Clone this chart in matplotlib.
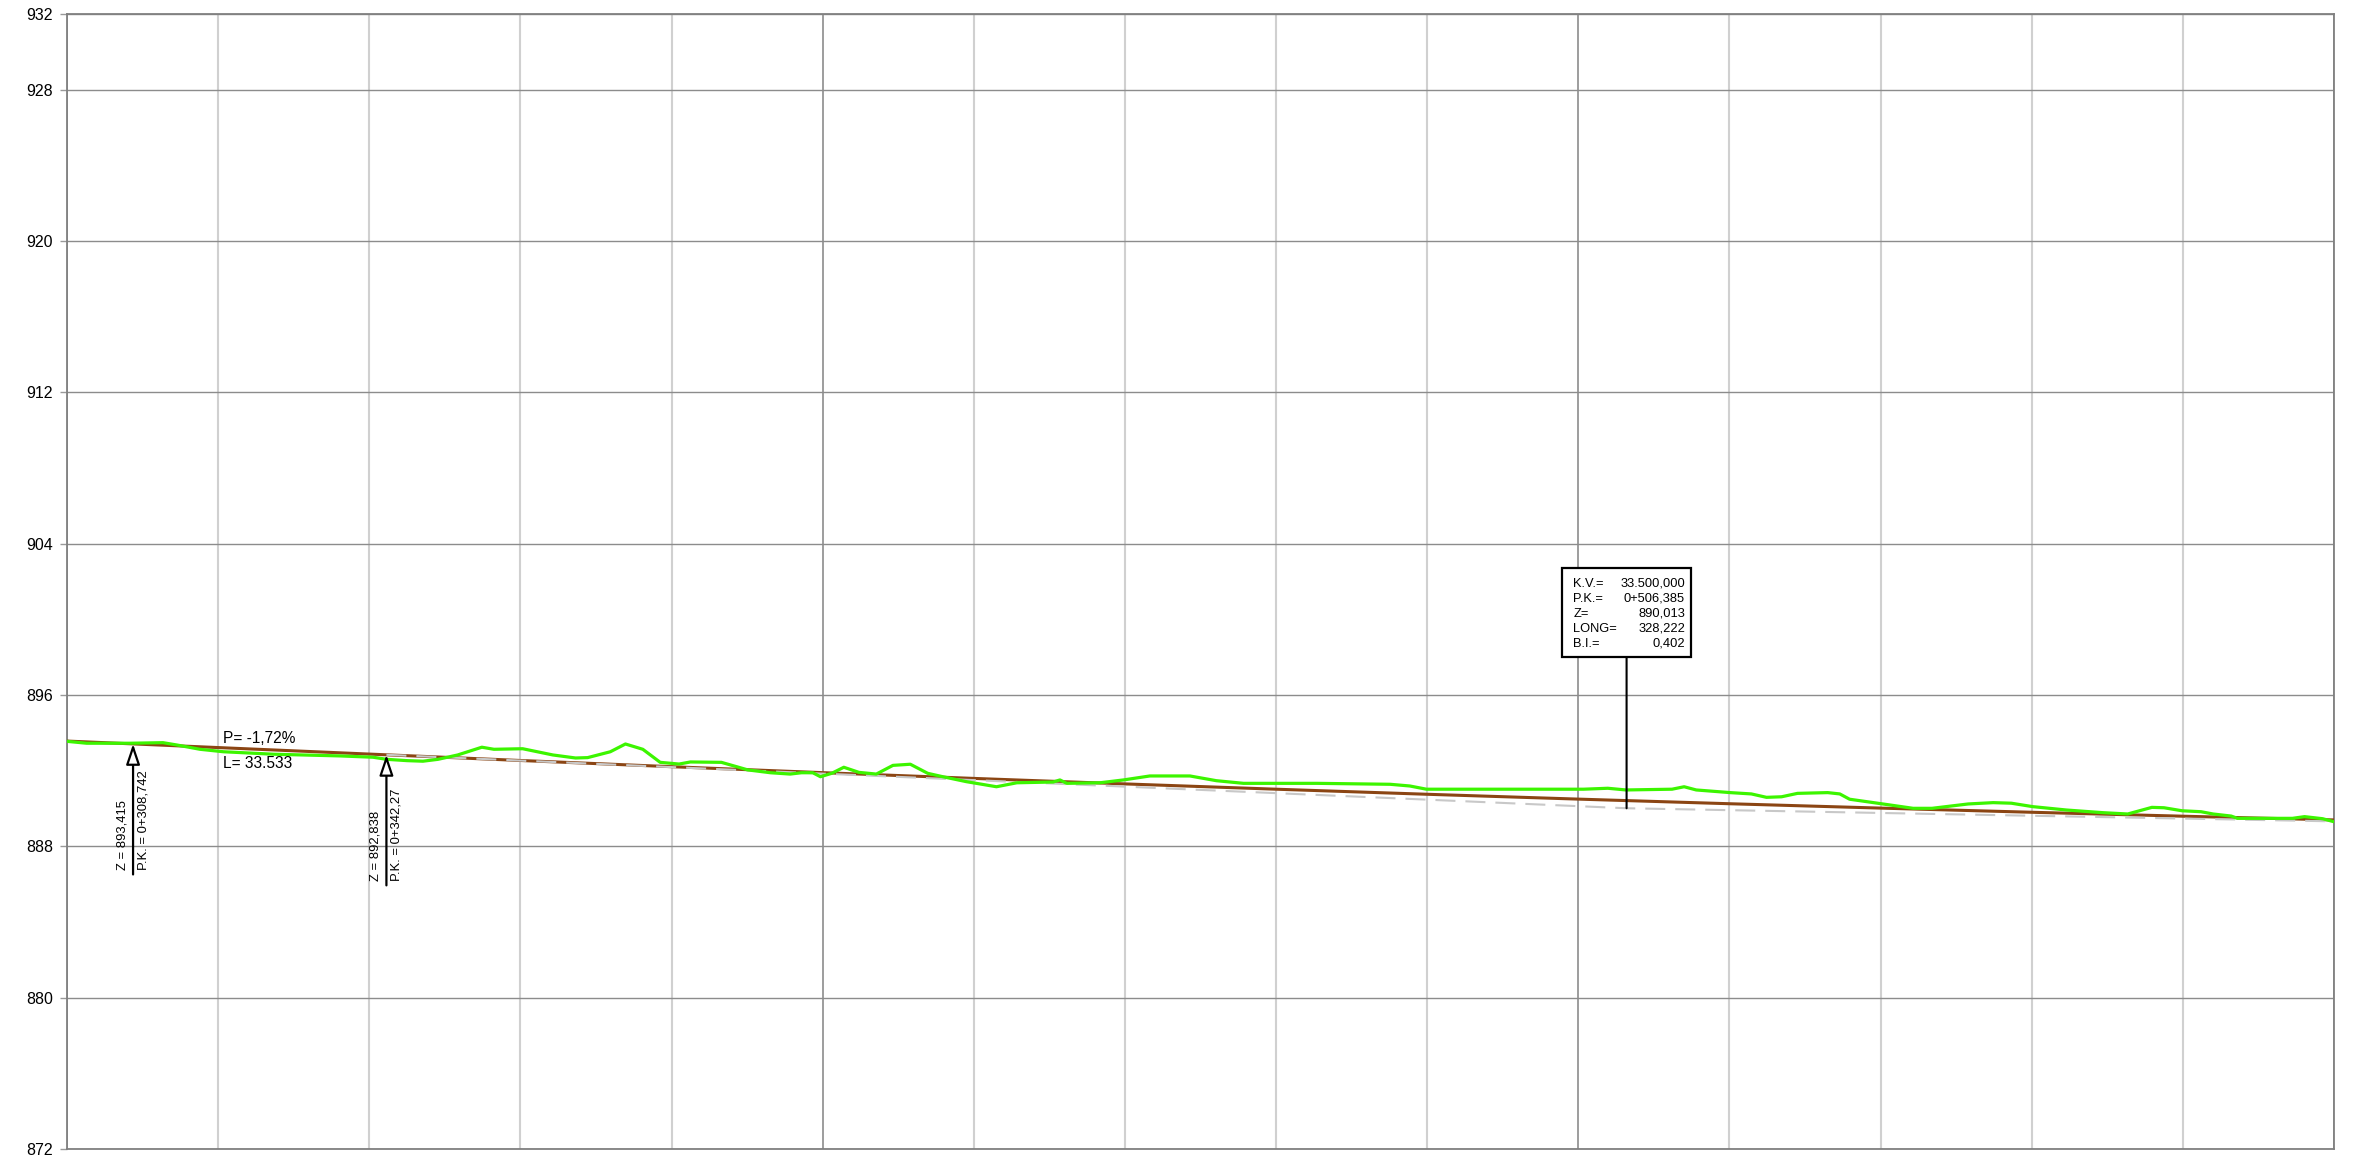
import matplotlib
matplotlib.use('Agg')
import matplotlib.pyplot as plt
from matplotlib.offsetbox import TextArea, HPacker, VPacker, AnnotationBbox, DrawingArea

# ---------------- data ----------------
# Terrain profile (green): chainage (m), elevation (m)
terrain_pk = [300.0, 302.6, 308.3, 312.7, 314.5, 317.6, 320.7, 327.3, 336.1, 340.5,
              342.3, 345.0, 347.1, 349.1, 351.7, 354.9, 356.5, 360.3, 364.3, 367.3,
              368.9, 371.9, 373.9, 376.2, 378.5, 381.0, 382.5, 386.6, 390.1, 393.1,
              395.7, 397.2, 398.7, 399.7, 401.2, 402.8, 404.8, 407.1, 409.3, 411.6,
              413.9, 415.9, 419.0, 423.0, 425.7, 430.5, 431.4, 432.3, 436.7, 439.8,
              443.3, 448.6, 452.1, 455.7, 465.4, 475.1, 477.7, 479.9, 488.5, 500.7,
              503.9, 506.3, 512.4, 514.0, 515.6, 520.1, 522.9, 524.9, 526.9, 529.0,
              533.0, 534.6, 535.9, 540.3, 544.3, 546.8, 551.6, 554.9, 557.3, 560.1,
              564.6, 569.4, 572.7, 575.9, 577.5, 579.9, 582.4, 584.0, 586.4, 587.2,
              594.5, 596.1, 598.5, 600.0]
terrain_z = [893.55, 893.45, 893.45, 893.48, 893.36, 893.13, 893.00, 892.87, 892.78, 892.71,
             892.60, 892.53, 892.50, 892.60, 892.83, 893.24, 893.13, 893.16, 892.83, 892.67,
             892.69, 893.00, 893.41, 893.13, 892.44, 892.35, 892.46, 892.44, 892.04, 891.89,
             891.82, 891.89, 891.89, 891.68, 891.86, 892.18, 891.91, 891.82, 892.28, 892.34,
             891.86, 891.68, 891.42, 891.15, 891.36, 891.40, 891.51, 891.33, 891.36, 891.51,
             891.72, 891.72, 891.47, 891.33, 891.33, 891.28, 891.19, 891.02, 891.02, 891.02,
             891.07, 890.98, 891.02, 891.15, 890.98, 890.84, 890.77, 890.59, 890.62, 890.80,
             890.84, 890.77, 890.49, 890.24, 890.01, 890.01, 890.24, 890.31, 890.28, 890.10,
             889.92, 889.78, 889.71, 890.06, 890.04, 889.88, 889.83, 889.71, 889.60, 889.48,
             889.48, 889.57, 889.46, 889.30]

# Design grade line (brown)
grade_pk = [300.0, 320.0, 340.0, 342.27, 360.0, 380.0, 400.0, 420.0, 440.0, 460.0,
            480.0, 500.0, 520.0, 540.0, 560.0, 580.0, 600.0]
grade_z = [893.565, 893.221, 892.877, 892.838, 892.538, 892.210, 891.895, 891.591, 891.300, 891.020,
           890.752, 890.496, 890.252, 890.021, 889.801, 889.593, 889.396]

# Tangent lines of the vertical curve (grey dashed)
tangent_pk = [342.27, 506.385, 600.0]
tangent_z = [892.838, 890.013, 889.320]

# Point markers (arrows)
marker_pk = [308.742, 342.27]
marker_z = [893.415, 892.838]
marker_z_labels = ['Z = 893,415', 'Z = 892,838']
marker_pk_labels = ['P.K. = 0+308,742', 'P.K. = 0+342,27']

# Grade annotation
grade_label_pk = 320.68
grade_label_z = 893.21
grade_text_p = 'P= -1,72%'
grade_text_l = 'L= 33.533'

# Vertical curve vertex box
kv_pk = 506.385
kv_z = 890.013
kv_labels = ['K.V.=', 'P.K.=', 'Z=', 'LONG=', 'B.I.=']
kv_values = ['33.500,000', '0+506,385', '890,013', '328,222', '0,402']

y_ticks = [872, 880, 888, 896, 904, 912, 920, 928, 932]
x_major = [300, 400, 500, 600]
x_minor = [320, 340, 360, 380, 420, 440, 460, 480, 520, 540, 560, 580]
x_range = (300, 600)
y_range = (872, 932)

# ---------------- figure ----------------
plt.rcParams['font.family'] = ['Liberation Sans', 'DejaVu Sans']

fig = plt.figure(figsize=(23.58, 11.69), dpi=100)
ax = fig.add_axes([67 / 2358, 1 - 1149 / 1169, (2334 - 67) / 2358, (1149 - 14) / 1169])

ax.set_xlim(*x_range)
ax.set_ylim(*y_range)
ax.set_yticks(y_ticks)
ax.set_xticks(x_major)
ax.set_xticks(x_minor, minor=True)

ax.grid(axis='y', color='#8c8c8c', lw=1.0, zorder=0)
ax.grid(axis='x', which='major', color='#8c8c8c', lw=1.2, zorder=0)
ax.grid(axis='x', which='minor', color='#d0d0d0', lw=1.5, zorder=0)
ax.set_axisbelow(True)

ax.tick_params(axis='x', which='both', length=0, labelbottom=False)
ax.tick_params(axis='y', length=5, width=1, color='#999999', labelsize=11.5, pad=5,
               labelcolor='black')
for side, sp in ax.spines.items():
    sp.set_color('#808080')
    sp.set_linewidth(1.3)

# lines
ax.plot(grade_pk, grade_z, color='#8B4513', lw=2.2, zorder=3, solid_capstyle='butt')
ax.plot(tangent_pk, tangent_z, color='#c8c8c8', lw=1.5, dashes=(9.6, 4.8), zorder=4)
ax.plot(terrain_pk, terrain_z, color='#3CF500', lw=2.3, zorder=5, solid_joinstyle='round')

# markers (arrows with labels)
for pk, z, zl, pkl in zip(marker_pk, marker_z, marker_z_labels, marker_pk_labels):
    ax.annotate('', xy=(pk, z), xycoords='data', xytext=(0, -94), textcoords='offset points',
                arrowprops=dict(arrowstyle='-|>,head_length=1.25,head_width=0.42',
                                fc='white', ec='black', lw=1.6, shrinkA=0, shrinkB=0,
                                mutation_scale=10),
                zorder=6)
    ax.annotate(zl, xy=(pk, z), xytext=(-7.8, -90.5), textcoords='offset points',
                rotation=90, ha='center', va='bottom', fontsize=9.4, zorder=6)
    ax.annotate(pkl, xy=(pk, z), xytext=(7.2, -90.5), textcoords='offset points',
                rotation=90, ha='center', va='bottom', fontsize=9.4, zorder=6)

# grade text
ax.annotate(grade_text_p, xy=(grade_label_pk, grade_label_z), xytext=(0, 3.2),
            textcoords='offset points', ha='left', va='baseline', fontsize=11.2, zorder=6)
ax.annotate(grade_text_l, xy=(grade_label_pk, grade_label_z), xytext=(0, -14.3),
            textcoords='offset points', ha='left', va='baseline', fontsize=11.2, zorder=6)

# vertex info box
fs_box = 9.3
labels_area = TextArea('\n'.join(kv_labels),
                       textprops=dict(fontsize=fs_box, linespacing=1.33, multialignment='left'))
values_area = TextArea('\n'.join(kv_values),
                       textprops=dict(fontsize=fs_box, linespacing=1.33, multialignment='right'))
row = HPacker(children=[DrawingArea(5.6, 1), labels_area, values_area, DrawingArea(2.0, 1)],
              align='top', pad=0, sep=2.4)
col = VPacker(children=[DrawingArea(1, 7.0), row, DrawingArea(1, 5.5)],
              align='center', pad=0, sep=0)
ab = AnnotationBbox(col, (kv_pk, kv_z), xycoords='data',
                    xybox=(0, 108.7), boxcoords='offset points',
                    box_alignment=(0.5, 0.0), pad=0, frameon=True,
                    bboxprops=dict(edgecolor='black', lw=1.6, facecolor='white',
                                   boxstyle='square,pad=0'),
                    arrowprops=dict(arrowstyle='-', color='black', lw=1.5,
                                    shrinkA=0, shrinkB=0),
                    zorder=7)
ax.add_artist(ab)

fig.savefig('out.png', dpi=100, facecolor='white')
